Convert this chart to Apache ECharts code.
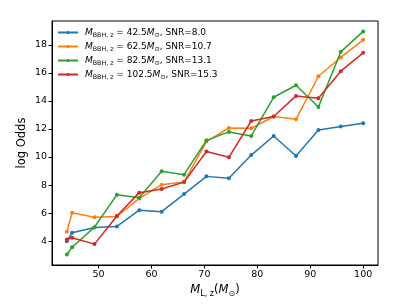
<!DOCTYPE html>
<html><head><meta charset="utf-8">
<script src="https://cdn.jsdelivr.net/npm/echarts@6/dist/echarts.min.js"></script>
<style>html,body{margin:0;padding:0;background:#fff}#c{width:407px;height:305px}</style>
</head><body><div id="c"></div>
<script>
const xValues = [44, 45, 49.23, 53.46, 57.69, 61.92, 66.15, 70.38, 74.62, 78.85, 83.08, 87.31, 91.54, 95.77, 100];
const blue   = [4.0, 4.6, 4.98, 5.05, 6.21, 6.1, 7.36, 8.62, 8.48, 10.14, 11.5, 10.07, 11.93, 12.17, 12.41];
const orange = [4.67, 6.03, 5.7, 5.76, 7.05, 8.03, 8.22, 11.1, 12.07, 12.05, 12.89, 12.69, 15.76, 17.1, 18.36];
const green  = [3.05, 3.57, 5.0, 7.31, 7.1, 8.99, 8.74, 11.19, 11.79, 11.5, 14.26, 15.12, 13.57, 17.5, 18.96];
const red    = [4.12, 4.24, 3.79, 5.79, 7.46, 7.72, 8.21, 10.39, 9.98, 12.57, 12.89, 14.36, 14.19, 16.12, 17.43];
const masses = ['42.5', '62.5', '82.5', '102.5'];
const snrs = ['8.0', '10.7', '13.1', '15.3'];
const xTicks = [50, 60, 70, 80, 90, 100];
const yTicks = [4, 6, 8, 10, 12, 14, 16, 18];

const colors = ['#1f77b4', '#ff7f0e', '#2ca02c', '#d62728'];
const allY = [blue, orange, green, red];
const names = masses.map((m, i) => 'M' + i);
const FONT = 'DejaVu Sans';

const series = allY.map((ys, i) => ({
  name: names[i],
  type: 'line',
  data: xValues.map((x, j) => [x, ys[j]]),
  symbol: 'circle',
  symbolSize: 4,
  showSymbol: true,
  lineStyle: { width: 1.5, color: colors[i] },
  itemStyle: { color: colors[i] },
  emphasis: { disabled: true },
  animation: false,
  z: 2 + i
}));

const rich = {
  i: { fontFamily: FONT, fontStyle: 'italic', fontSize: 9, color: '#000' },
  s: { fontFamily: FONT, fontSize: 6.3, color: '#000', verticalAlign: 'bottom', padding: [5, 0, 0, 0] },
  n: { fontFamily: FONT, fontSize: 9, color: '#000' }
};

const chart = echarts.init(document.getElementById('c'), null, { renderer: 'canvas' });
chart.setOption({
  backgroundColor: '#fff',
  animation: false,
  textStyle: { fontFamily: FONT },
  grid: { left: 52, right: 29, top: 21, bottom: 40, show: true, borderColor: '#000', borderWidth: 1, backgroundColor: 'transparent' },
  legend: {
    orient: 'vertical', left: 54, top: 25,
    itemWidth: 20, itemHeight: 4, itemGap: 4,
    data: names,
    formatter: (name) => {
      const i = names.indexOf(name);
      return '{i|M}{s|BBH, z}{n| = ' + masses[i] + '}{i|M}{s|⊙}{n|, SNR=' + snrs[i] + '}';
    },
    textStyle: { rich: rich, fontSize: 9, padding: [0, 0, 0, 2] },
    borderWidth: 0, padding: 3
  },
  xAxis: {
    type: 'value', min: 41.2, max: 102.8,
    splitLine: { show: false },
    axisLine: { show: true, lineStyle: { color: '#000', width: 1 } },
    axisTick: { show: true, length: 3.5, customValues: xTicks, lineStyle: { color: '#000' } },
    axisLabel: { customValues: xTicks, color: '#000', fontSize: 9.5, fontFamily: FONT, margin: 5 },
    name: '{i|M}{s|L, z}{n|(}{i|M}{s|⊙}{n|)}',
    nameLocation: 'middle', nameGap: 18, nameMoveOverlap: false,
    nameTextStyle: { rich: {
      i: { fontFamily: FONT, fontStyle: 'italic', fontSize: 11.5, color: '#000' },
      s: { fontFamily: FONT, fontSize: 8, color: '#000', verticalAlign: 'bottom', padding: [7, 0, 0, 0] },
      n: { fontFamily: FONT, fontSize: 11.5, color: '#000' }
    } }
  },
  yAxis: {
    type: 'value', min: 2.3, max: 19.7,
    splitLine: { show: false },
    axisLine: { show: true, lineStyle: { color: '#000', width: 1 } },
    axisTick: { show: true, length: 3.5, customValues: yTicks, lineStyle: { color: '#000' } },
    axisLabel: { customValues: yTicks, color: '#000', fontSize: 9.5, fontFamily: FONT, margin: 5 },
    name: 'log Odds', nameLocation: 'middle', nameGap: 24, nameRotate: 90, nameMoveOverlap: false,
    nameTextStyle: { fontFamily: FONT, fontSize: 11.5, color: '#000' }
  },
  series: series
});
</script></body></html>
